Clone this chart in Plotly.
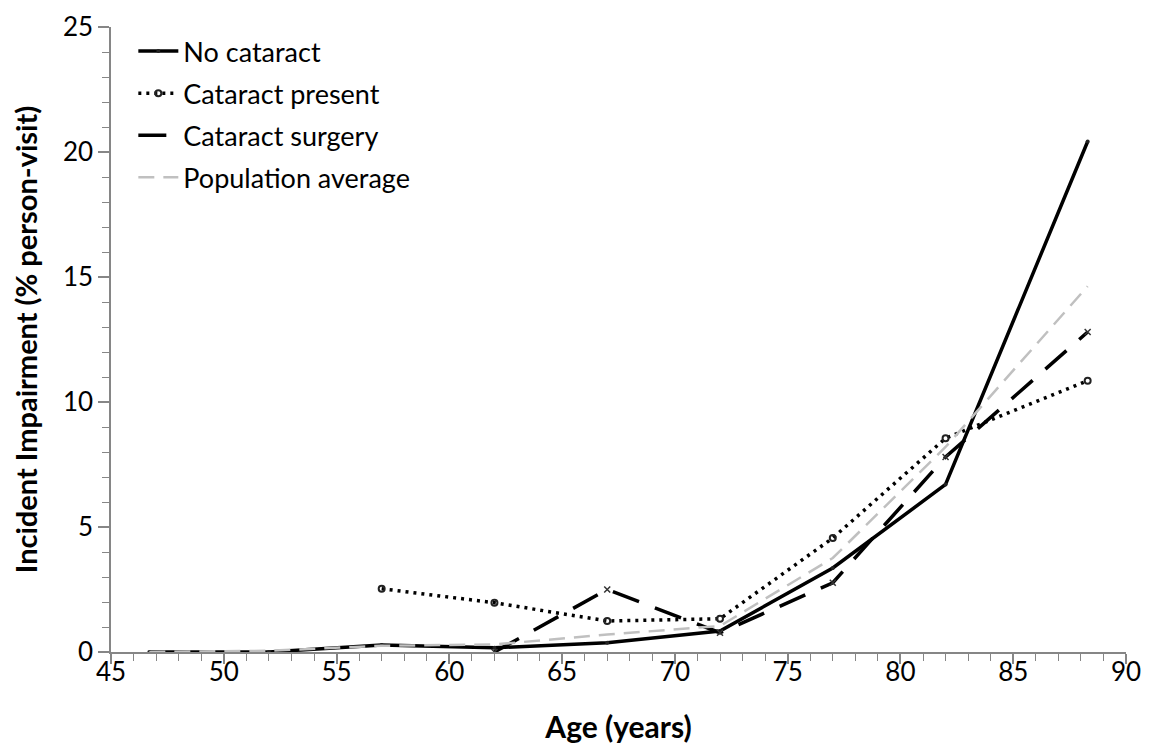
import plotly.graph_objects as go

age = [46.7, 52, 57, 62, 67, 72, 77, 82, 88.3]
no_cataract = [0.0, 0.0, 0.28, 0.17, 0.37, 0.84, 3.36, 6.7, 20.42]
cataract_present = [None, None, 2.53, 1.97, 1.24, 1.33, 4.56, 8.55, 10.85]
cataract_surgery = [None, None, None, 0.0, 2.5, 0.77, 2.77, 7.8, 12.8]
population_average = [0.0, 0.05, 0.25, 0.3, 0.7, 1.04, 3.76, 8.2, 14.63]

x_ticks = [45, 50, 55, 60, 65, 70, 75, 80, 85, 90]
y_ticks = [0, 5, 10, 15, 20, 25]

FONT = "Lato"
AXIS_GRAY = "#868686"

fig = go.Figure()
fig.add_trace(go.Scatter(
    x=age, y=no_cataract, name="No cataract", mode="lines+markers", legendgroup="g1",
    line=dict(color="black", width=3.5),
    marker=dict(symbol="circle", size=4, color="#222")))
fig.add_trace(go.Scatter(
    x=age, y=cataract_present, name="Cataract present", mode="lines+markers", legendgroup="g2",
    line=dict(color="black", width=3.5, dash="3px,5px"),
    marker=dict(symbol="circle-open", size=6, color="#222", line=dict(width=2))))
fig.add_trace(go.Scatter(
    x=age, y=cataract_surgery, name="Cataract surgery", mode="lines", legendgroup="g3",
    line=dict(color="black", width=3.5, dash="28px,17px")))
fig.add_trace(go.Scatter(
    x=age, y=cataract_surgery, mode="markers", showlegend=False, hoverinfo="skip", legendgroup="g3",
    marker=dict(symbol="x-thin", size=6, line=dict(width=1.5, color="#333"))))
fig.add_trace(go.Scatter(
    x=age, y=population_average, name="Population average", mode="lines", legendgroup="g4",
    line=dict(color="#c0c0c0", width=2.5, dash="16px,9px")))

axis_common = dict(
    showline=True, linecolor=AXIS_GRAY, linewidth=1.5, showgrid=False, zeroline=False,
    ticks="outside", tickcolor=AXIS_GRAY, tickwidth=1.5, ticklabeloverflow="allow",
    automargin=False,
    tickfont=dict(family=FONT, size=26, color="black"),
)

fig.update_xaxes(
    range=[45, 90], tickvals=x_ticks, ticklen=10, ticklabelstandoff=-14,
    minor=dict(dtick=1, ticks="outside", ticklen=7, tickcolor=AXIS_GRAY, tickwidth=1.2, showgrid=False),
    title=dict(text="<b>Age (years)</b>", font=dict(family=FONT, size=30, color="black"), standoff=38),
    **axis_common)
fig.update_yaxes(
    range=[0, 25], tickvals=y_ticks, ticklen=11,
    minor=dict(dtick=1, ticks="outside", ticklen=7, tickcolor=AXIS_GRAY, tickwidth=1.2, showgrid=False),
    title=dict(text="<b>Incident Impairment (% person-visit)</b>", font=dict(family=FONT, size=29, color="black"),
               standoff=30),
    **axis_common)

fig.update_layout(
    width=1141, height=736,
    margin=dict(l=103, r=23, t=19, b=92),
    paper_bgcolor="white", plot_bgcolor="white",
    showlegend=True,
    legend=dict(x=0.022, y=1.0, xanchor="left", yanchor="top", bgcolor="rgba(0,0,0,0)",
                font=dict(family=FONT, size=27, color="black"), tracegroupgap=4,
                itemwidth=40),
)

fig.write_html("out.html")
